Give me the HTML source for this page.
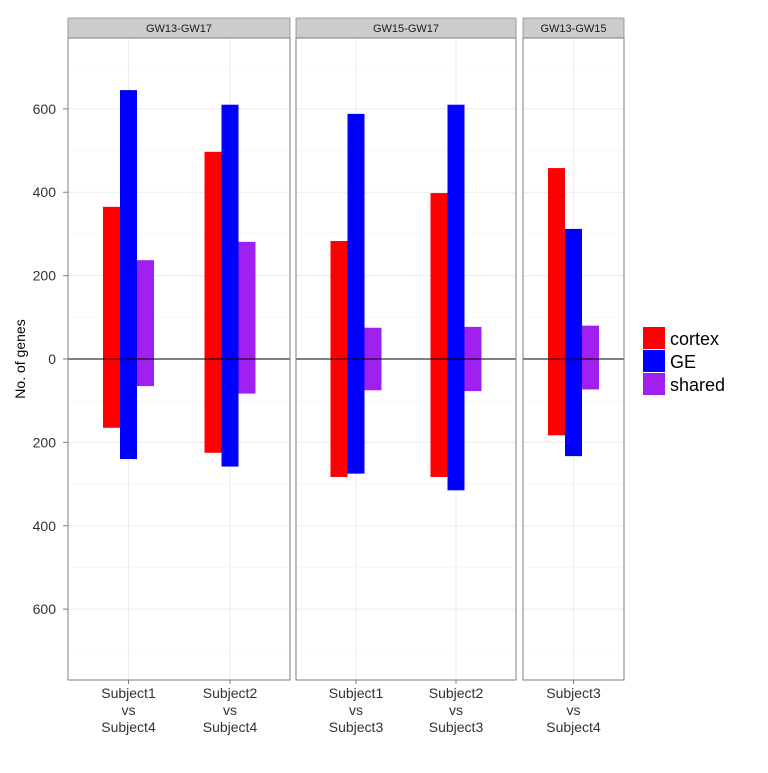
<!DOCTYPE html>
<html><head><meta charset="utf-8"><style>
body{margin:0;background:#fff;font-family:"Liberation Sans",sans-serif}
</style></head><body>
<svg id="chart" width="768" height="768" xmlns="http://www.w3.org/2000/svg" font-family="Liberation Sans, sans-serif"></svg>
<script>
const panels = ["GW13-GW17","GW15-GW17","GW13-GW15"];
const categories = [["Subject1 vs Subject4","Subject2 vs Subject4"],["Subject1 vs Subject3","Subject2 vs Subject3"],["Subject3 vs Subject4"]];
const seriesNames = ["cortex","GE","shared"];
const cortexUp = [[365,497],[283,398],[458]];
const cortexDown = [[165,225],[283,283],[183]];
const geUp = [[645,610],[588,610],[312]];
const geDown = [[240,258],[275,315],[233]];
const sharedUp = [[237,281],[75,77],[80]];
const sharedDown = [[65,83],[75,77],[73]];
const yTicks = [-600,-400,-200,0,200,400,600];
const yTickLabels = ["600","400","200","0","200","400","600"];

const colors = ["#ff0000","#0000ff","#a020f0"];
const ns="http://www.w3.org/2000/svg";
const svg=document.getElementById('chart');
function mk(t,a,p){const e=document.createElementNS(ns,t);for(const k in a)e.setAttribute(k,a[k]);(p||svg).appendChild(e);return e;}
const plotTop=38,plotBot=680,zeroY=359,yScale=(zeroY-plotTop)/770;
function y(v){return zeroY-v*yScale;}
const panelX=[[68,290],[296,516],[523,624]];
const catX=[[128.5,230],[356,456],[573.5]];
const bw=17;
const ups=[cortexUp,geUp,sharedUp],downs=[cortexDown,geDown,sharedDown];
panels.forEach((p,pi)=>{
  const [x0,x1]=panelX[pi];
  const g=mk('g',{});
  
  
  const st=mk('rect',{x:x0,y:18,width:x1-x0,height:20,fill:'#cccccc',stroke:'#7f7f7f','stroke-width':0.7},g);
  
  
  const stt=mk('text',{x:(x0+x1)/2,y:32,'text-anchor':'middle','font-size':11,fill:'#1a1a1a'},g);stt.textContent=p;
  
  
  for(let v=-700;v<=700;v+=100){
    mk('line',{x1:x0,x2:x1,y1:y(v),y2:y(v),stroke:v%200===0?'#ebebeb':'#f5f5f5','stroke-width':v%200===0?1:0.6},g);
  }
  catX[pi].forEach(cx=>mk('line',{x1:cx,x2:cx,y1:plotTop,y2:plotBot,stroke:'#ebebeb'},g));
  categories[pi].forEach((c,ci)=>{
    const cx=catX[pi][ci];
    for(let s=0;s<3;s++){
      const bx=cx-bw*1.5+s*bw;
      const u=ups[s][pi][ci],d=downs[s][pi][ci];
      const r=mk('rect',{x:bx,y:y(u),width:bw,height:y(-d)-y(u),fill:colors[s]},g);
      
      
    }
    const t=mk('text',{x:cx,y:698,'text-anchor':'middle','font-size':14,fill:'#333'},g);
    
    
    c.split(' ').forEach((w,wi)=>{const ts=mk('tspan',{x:cx,dy:wi?17:0},t);ts.textContent=w;});
  });
  mk('line',{x1:x0,x2:x1,y1:zeroY,y2:zeroY,stroke:'#000','stroke-width':1},g);
  mk('rect',{x:x0,y:plotTop,width:x1-x0,height:plotBot-plotTop,fill:'none',stroke:'#7f7f7f','stroke-width':1},g);
  catX[pi].forEach(cx=>mk('line',{x1:cx,x2:cx,y1:plotBot,y2:plotBot+4,stroke:'#7f7f7f'},g));
});
yTicks.forEach((v,i)=>{
  const t=mk('text',{x:56,y:y(v)+5,'text-anchor':'end','font-size':14,fill:'#333'});
  t.textContent=yTickLabels[i];
  
  
  mk('line',{x1:63,x2:68,y1:y(v),y2:y(v),stroke:'#7f7f7f'});
});
const yt=mk('text',{x:0,y:0,transform:'translate(25,359) rotate(-90)','text-anchor':'middle','font-size':14,fill:'#000'});
yt.textContent='No. of genes';


seriesNames.forEach((s,i)=>{
  const g=mk('g',{});
  
  
  mk('rect',{x:643,y:327+i*23,width:22,height:22,fill:colors[i]},g);
  const t=mk('text',{x:670,y:345+i*23,'font-size':18,fill:'#000'},g);t.textContent=s;
});
</script>
</body></html>
